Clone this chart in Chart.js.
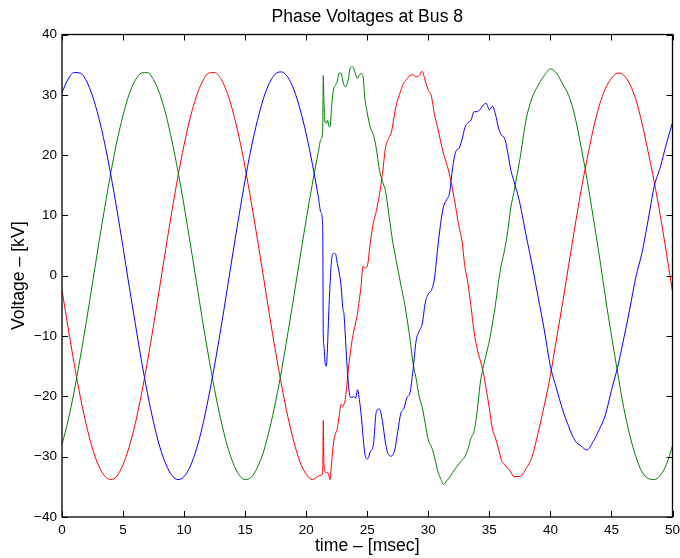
<!DOCTYPE html>
<html>
<head>
<meta charset="utf-8">
<title>Phase Voltages at Bus 8</title>
<script src="https://cdn.jsdelivr.net/npm/chart.js@4.4.0/dist/chart.umd.min.js"></script>
<style>
  html, body { margin: 0; padding: 0; background: #fff; }
  canvas { display: block; }
</style>
</head>
<body>
<canvas id="busChart" width="680" height="558"></canvas>
<script>
// sample times in ms (denser around the fault at ~21.4 ms)
const timeMs = [
  0, 0.5, 1, 1.5, 2, 2.5, 3, 3.5, 4, 4.5, 5, 5.5, 6, 6.5, 7, 7.5, 8, 8.5, 9, 9.5,
  10, 10.5, 11, 11.5, 12, 12.5, 13, 13.5, 14, 14.5, 15, 15.5, 16, 16.5, 17, 17.5,
  18, 18.5, 19, 19.5, 20, 20.5, 21,
  21.2, 21.35, 21.4, 21.45, 21.55, 21.65, 21.75, 21.85, 21.95, 22.1, 22.25, 22.4,
  22.55, 22.7, 22.85, 23.0, 23.1, 23.2, 23.3, 23.45, 23.6, 23.75, 23.9, 24.05,
  24.2, 24.35, 24.5, 24.65, 24.8,
  25, 25.25, 25.5, 25.75, 26, 26.25, 26.5, 26.75, 27, 27.25, 27.5, 27.75,
  28, 28.25, 28.5, 28.75, 29, 29.25, 29.5, 29.75, 30, 30.25, 30.5, 30.75,
  31, 31.25, 31.5, 31.75, 32, 32.25, 32.5, 32.75, 33, 33.25, 33.5, 33.75,
  34, 34.25, 34.5, 34.75, 35, 35.25, 35.5, 35.75, 36, 36.25, 36.5, 36.75, 37,
  37.5, 38, 38.5, 39, 39.5, 40, 40.5, 41, 41.5, 42, 42.5, 43, 43.5, 44, 44.5,
  45, 45.5, 46, 46.5, 47, 47.5, 48, 48.5, 49, 49.5, 50
];

// phase voltages in kV
const phaseBlue = [
  30.4, 32.6, 33.7, 33.6, 32.3, 29.8, 26.3, 21.9, 16.7, 10.9, 4.7, -1.7, -7.9, -14.0,
  -19.5, -24.3, -28.3, -31.2, -33.1, -33.8, -33.3, -31.6, -28.8, -25.0, -20.2, -14.8,
  -8.9, -2.6, 3.8, 10.0, 15.9, 21.2, 25.7, 29.4, 32.0, 33.5, 33.8, 32.9, 30.8, 27.6,
  23.5, 18.6, 13.0,
  10.5, 8.3, -10.0, -11.5, -14.5, -15.0, -11.5, -6.0, -1.5, 3.0, 3.7, 3.6, 2.0, 0.5,
  -1.5, -5.4, -6.5, -9.8, -13.5, -17.8, -20.1, -20.2, -20.0, -20.3, -18.9, -20.5,
  -23.0, -26.5, -29.5,
  -30.4, -29.2, -28.0, -22.5, -22.1, -24.2, -27.8, -29.7, -29.9, -28.9, -25.8, -22.8,
  -22.0, -20.2, -19.4, -15.6, -10.8, -9.2, -8.0, -4.5, -3.0, -2.4, -0.5, 4.2,
  8.5, 11.5, 12.6, 13.8, 18.0, 20.6, 21.1, 22.5, 24.6, 25.4, 25.8, 27.2,
  27.2, 27.6, 28.3, 28.6, 27.5, 28.1, 26.8, 24.5, 23.3, 22.8, 20.5, 17.6, 15.8,
  12.0, 6.8, 1.8, -3.6, -9.0, -15.0, -18.7, -22.2, -25.0, -27.3, -28.2, -28.9, -27.5,
  -25.5, -23.1, -19.0, -15.2, -10.5, -5.5, -0.2, 3.8, 9.2, 14.8, 18.0, 21.9, 25.4
];

const phaseGreen = [
  -28.0, -24.0, -19.1, -13.5, -7.5, -1.2, 5.2, 11.3, 17.1, 22.3, 26.6, 30.1, 32.4, 33.6,
  33.7, 32.5, 30.2, 26.8, 22.4, 17.3, 11.6, 5.4, -0.9, -7.3, -13.3, -18.9, -23.8,
  -27.9, -31.0, -33.0, -33.8, -33.4, -31.8, -29.2, -25.4, -20.8, -15.5, -9.5, -3.3,
  3.1, 9.3, 15.2, 20.6,
  22.6, 24.0, 33.2, 29.0, 25.5, 25.3, 25.8, 24.8, 24.7, 28.5, 31.0, 31.6, 32.3, 33.6,
  33.6, 32.3, 31.6, 31.3, 31.6, 32.6, 34.4, 34.7, 34.3, 33.4, 32.7, 33.3, 33.5, 33.2,
  29.5,
  27.0, 24.6, 23.4, 21.0, 17.5, 15.6, 14.0, 10.5, 6.8, 3.8, 1.2, -1.5,
  -4.0, -7.0, -10.5, -14.5, -17.0, -20.0, -21.8, -24.5, -27.2, -28.3, -30.0, -32.2,
  -33.6, -34.6, -34.0, -33.4, -32.6, -31.9, -31.2, -30.6, -30.0, -28.7, -26.9, -25.8,
  -22.5, -17.9, -15.1, -13.0, -10.8, -8.0, -4.8, -1.0, 2.0, 4.3, 7.3, 11.2, 13.8,
  19.3, 25.8, 29.5, 31.6, 33.2, 34.3, 33.6, 31.8, 29.9, 26.5, 21.5, 16.0, 9.8, 3.4,
  -3.5, -9.9, -16.0, -21.8, -26.4, -30.0, -32.5, -33.6, -33.8, -33.1, -31.3, -28.2
];

const phaseRed = [
  -2.4, -8.6, -14.6, -20.1, -24.8, -28.7, -31.5, -33.2, -33.8, -33.2, -31.3, -28.4,
  -24.5, -19.7, -14.2, -8.2, -1.9, 4.5, 10.7, 16.5, 21.7, 26.2, 29.7, 32.2, 33.6, 33.7,
  32.7, 30.5, 27.2, 23.0, 17.9, 12.2, 6.1, -0.2, -6.6, -12.7, -18.3, -23.4, -27.6,
  -30.9, -32.9, -33.8, -33.2,
  -33.1, -32.7, -24.0, -31.0, -32.5, -32.7, -32.6, -33.0, -33.8, -30.5, -27.5, -26.2,
  -25.3, -23.2, -21.3, -21.7, -21.3, -20.5, -18.8, -15.5, -13.0, -10.8, -9.2, -7.8,
  -6.2, -4.0, -1.6, 1.6, 1.3,
  1.6, 5.5, 8.8, 10.8, 13.5, 17.0, 21.3, 22.8, 24.0, 27.0, 29.2, 30.7,
  32.0, 32.6, 33.2, 33.3, 33.0, 33.2, 33.9, 32.3, 30.8, 29.8, 26.8, 24.7,
  22.4, 20.2, 18.6, 16.7, 14.2, 11.3, 8.3, 5.9, 1.5, -1.3, -5.2, -9.3,
  -12.1, -14.0, -16.0, -18.9, -22.0, -25.4, -26.9, -28.7, -30.6, -31.3, -31.9, -32.5, -33.3,
  -33.3, -32.0, -30.0, -26.0, -21.5, -16.5, -10.5, -4.5, 1.8, 8.0, 14.0, 19.3, 24.2,
  28.2, 31.0, 32.7, 33.6, 33.3, 31.8, 29.2, 25.3, 20.6, 15.6, 10.0, 3.8, -2.6
];

const xTicks = [0, 5, 10, 15, 20, 25, 30, 35, 40, 45, 50];
const yTicks = [-40, -30, -20, -10, 0, 10, 20, 30, 40];

function toPoints(values) {
  return timeMs.map((t, i) => ({ x: t, y: values[i] }));
}

function fmtTick(v) {
  return v < 0 ? '\u2212' + Math.abs(v) : String(v);
}

// box around the axes with inward tick marks on all four sides
const boxTicks = {
  id: 'boxTicks',
  afterDatasetsDraw(chart) {
    const { ctx, chartArea: a, scales: { x, y } } = chart;
    const len = 6;
    ctx.save();
    ctx.strokeStyle = '#000';
    ctx.lineWidth = 1;
    ctx.beginPath();
    xTicks.forEach(v => {
      const px = Math.round(x.getPixelForValue(v)) + 0.5;
      ctx.moveTo(px, a.bottom); ctx.lineTo(px, a.bottom - len);
      ctx.moveTo(px, a.top); ctx.lineTo(px, a.top + len);
    });
    yTicks.forEach(v => {
      const py = Math.round(y.getPixelForValue(v)) + 0.5;
      ctx.moveTo(a.left, py); ctx.lineTo(a.left + len, py);
      ctx.moveTo(a.right, py); ctx.lineTo(a.right - len, py);
    });
    ctx.stroke();
    ctx.lineWidth = 1.3;
    ctx.strokeRect(a.left, a.top, a.right - a.left, a.bottom - a.top);
    ctx.restore();
  }
};

Chart.defaults.font.family = '"Liberation Sans", Arial, Helvetica, sans-serif';
Chart.defaults.color = '#000';

const lineStyle = {
  borderWidth: 1,
  pointRadius: 0,
  cubicInterpolationMode: 'monotone',
  fill: false
};

new Chart(document.getElementById('busChart'), {
  type: 'line',
  data: {
    datasets: [
      { label: 'Phase A', data: toPoints(phaseBlue), borderColor: '#0000ff', ...lineStyle },
      { label: 'Phase B', data: toPoints(phaseGreen), borderColor: '#008000', ...lineStyle },
      { label: 'Phase C', data: toPoints(phaseRed), borderColor: '#ff0000', ...lineStyle }
    ]
  },
  options: {
    responsive: false,
    animation: false,
    devicePixelRatio: 1,
    layout: { padding: { left: 0, right: 7.5, top: 0, bottom: 0 } },
    plugins: {
      legend: { display: false },
      tooltip: { enabled: false },
      title: {
        display: true,
        text: 'Phase Voltages at Bus 8',
        fullSize: false,
        color: '#000',
        font: { size: 17.6, weight: 'normal' },
        padding: { top: 6.5, bottom: 6.9 }
      }
    },
    scales: {
      x: {
        type: 'linear',
        min: 0,
        max: 50,
        afterBuildTicks: s => { s.ticks = xTicks.map(v => ({ value: v })); },
        afterFit: s => { s.height = 41; s.paddingLeft = 0; s.paddingRight = 0; },
        grid: { display: false, drawTicks: false },
        border: { display: false },
        ticks: { padding: 5, font: { size: 13.5 }, color: '#000', maxRotation: 0, callback: fmtTick },
        title: {
          display: true,
          text: 'time \u2013 [msec]',
          color: '#000',
          font: { size: 17.6 },
          padding: { top: 0, bottom: 1 }
        }
      },
      y: {
        min: -40,
        max: 40,
        afterBuildTicks: s => { s.ticks = yTicks.map(v => ({ value: v })); },
        afterFit: s => { s.width = 62; s.paddingTop = 0; s.paddingBottom = 0; },
        grid: { display: false, drawTicks: false },
        border: { display: false },
        ticks: { padding: 5, font: { size: 13.5 }, color: '#000', callback: fmtTick },
        title: {
          display: true,
          text: 'Voltage \u2013 [kV]',
          color: '#000',
          font: { size: 17.6 },
          padding: { top: 8.5, bottom: 0 }
        }
      }
    }
  },
  plugins: [boxTicks]
});
</script>
</body>
</html>
